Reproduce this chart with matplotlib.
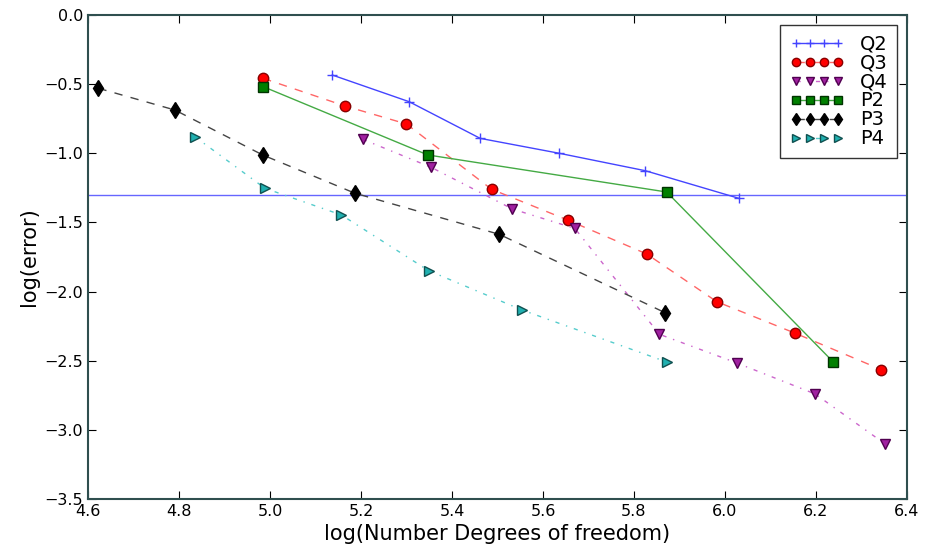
import matplotlib
matplotlib.use('Agg')
import matplotlib.pyplot as plt

# data
q2_x = [5.137, 5.306, 5.462, 5.636, 5.825, 6.031]
q2_y = [-0.434, -0.627, -0.892, -1.000, -1.126, -1.326]
q3_x = [4.985, 5.165, 5.300, 5.487, 5.656, 5.828, 5.982, 6.155, 6.344]
q3_y = [-0.458, -0.658, -0.788, -1.260, -1.485, -1.728, -2.073, -2.302, -2.565]
q4_x = [5.204, 5.354, 5.533, 5.670, 5.856, 6.026, 6.198, 6.352]
q4_y = [-0.899, -1.101, -1.403, -1.543, -2.309, -2.516, -2.740, -3.102]
p2_x = [4.985, 5.347, 5.872, 6.238]
p2_y = [-0.518, -1.012, -1.280, -2.509]
p3_x = [4.623, 4.791, 4.984, 5.187, 5.504, 5.868]
p3_y = [-0.530, -0.687, -1.012, -1.289, -1.586, -2.152]
p4_x = [4.835, 4.989, 5.157, 5.349, 5.554, 5.872]
p4_y = [-0.880, -1.253, -1.446, -1.849, -2.133, -2.509]
tol = -1.301

# old-style dash patterns
plt.rcParams['lines.scale_dashes'] = False
plt.rcParams['lines.dashed_pattern'] = [6, 6]
plt.rcParams['lines.dashdot_pattern'] = [3, 5, 1, 5]

fig = plt.figure(figsize=(9.25, 5.44), dpi=100)
ax = fig.add_axes([0.0951, 0.0827, 0.8854, 0.8897])

ax.axhline(tol, color='#6666ff', lw=1)
ax.plot(q2_x, q2_y, '+-', color='#4444ff', lw=1, ms=7, label='Q2')
ax.plot(q3_x, q3_y, 'o--', color='#ff6666', mfc='red', mec='#880000', lw=1, ms=7.5, label='Q3')
ax.plot(q4_x, q4_y, 'v-.', color='#cc66cc', mfc='#a020a0', mec='#500050', lw=1, ms=7, label='Q4')
ax.plot(p2_x, p2_y, 's-', color='#44aa44', mfc='green', mec='#003300', lw=1, ms=7, label='P2')
ax.plot(p3_x, p3_y, 'd--', color='#444444', mfc='black', mec='black', lw=1, ms=8, label='P3')
ax.plot(p4_x, p4_y, '>-.', color='#55cccc', mfc='#20b0b0', mec='#105050', lw=1, ms=7, label='P4')

ax.set_xlim(4.6, 6.4)
ax.set_ylim(-3.5, 0.0)
ax.set_xticks([4.6, 4.8, 5.0, 5.2, 5.4, 5.6, 5.8, 6.0, 6.2, 6.4])
ax.set_yticks([-3.5, -3.0, -2.5, -2.0, -1.5, -1.0, -0.5, 0.0])
ax.tick_params(direction='in', top=True, right=True, labelsize=11.5, length=6)
for s in ax.spines.values():
    s.set_color('#2f4f4f')
    s.set_linewidth(1.5)

ax.set_xlabel('log(Number Degrees of freedom)', fontsize=15)
ax.set_ylabel('log(error)', fontsize=15)

leg = ax.legend(loc='upper right', numpoints=4, fontsize=14, fancybox=False,
                markerscale=0.8, handlelength=2.8, handletextpad=0.8,
                labelspacing=0.0, borderaxespad=0.5, borderpad=0.5)
leg.get_frame().set_edgecolor('black')

fig.savefig('out.png', dpi=100)
